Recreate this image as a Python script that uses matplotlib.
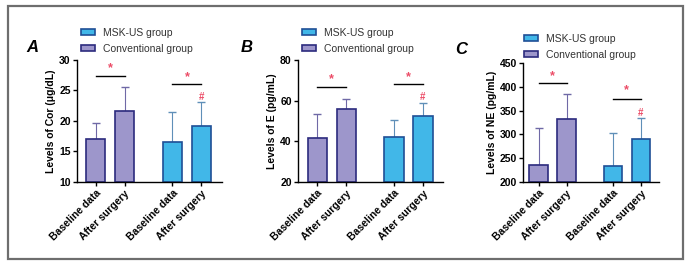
import matplotlib
matplotlib.use("Agg")
import matplotlib.pyplot as plt
from matplotlib.patches import Rectangle

plt.rcParams["font.family"] = ["Liberation Sans", "DejaVu Sans"]

# time points and groups
timepoints = ["Baseline data", "After surgery"]
groups = ["MSK-US group", "Conventional group"]

# panel A - cortisol
cor_conv = [17.0, 21.7]
cor_conv_sd = [2.7, 3.9]
cor_msk = [16.5, 19.1]
cor_msk_sd = [4.9, 4.0]

# panel B - epinephrine
e_conv = [41.8, 55.9]
e_conv_sd = [11.4, 5.1]
e_msk = [41.9, 52.3]
e_msk_sd = [8.8, 6.6]

# panel C - norepinephrine
ne_conv = [236, 332]
ne_conv_sd = [77, 53]
ne_msk = [234, 291]
ne_msk_sd = [68, 44]

# significance marks: (bracket y, star y) per group, '#' y
cor_marks = [(27.4, 28.7), (26.0, 27.2), 24.0]
e_marks = [(66.5, 70.4), (68.0, 71.8), 62.0]
ne_marks = [(408, 422), (375, 392), 346]

conv_face, conv_edge = "#9d96cb", "#2c2b7e"
msk_face, msk_edge = "#41b7e8", "#1f4f96"
conv_err, msk_err = "#6f69a6", "#5f8fb8"
mark_red = "#ec4c67"

W, H = 690, 265
fig = plt.figure(figsize=(W / 100, H / 100), dpi=100)
fig.patches.append(Rectangle((8 / W, 1 - 259 / H), 675 / W, 253 / H,
                             transform=fig.transFigure, fill=False,
                             edgecolor="#6e6e6e", lw=1.6))


def px_axes(left, top, right, bottom):
    return fig.add_axes([left / W, 1 - bottom / H, (right - left) / W, (bottom - top) / H])


panels = [
    dict(box=(77, 60, 222, 182), conv=cor_conv, conv_sd=cor_conv_sd, msk=cor_msk,
         msk_sd=cor_msk_sd, marks=cor_marks, ylim=(10, 30), yticks=[10, 15, 20, 25, 30],
         ylabel="Levels of Cor (\u03bcg/dL)", letter="A", letter_xy=(26, 47),
         leg_xy=(81, 28), xlim=(-0.64, 4.36)),
    dict(box=(298, 60, 443, 182), conv=e_conv, conv_sd=e_conv_sd, msk=e_msk,
         msk_sd=e_msk_sd, marks=e_marks, ylim=(20, 80), yticks=[20, 40, 60, 80],
         ylabel="Levels of E (pg/mL)", letter="B", letter_xy=(241, 48),
         leg_xy=(302, 28), xlim=(-0.66, 4.34)),
    dict(box=(523, 63, 659, 182), conv=ne_conv, conv_sd=ne_conv_sd, msk=ne_msk,
         msk_sd=ne_msk_sd, marks=ne_marks, ylim=(200, 450),
         yticks=[200, 250, 300, 350, 400, 450],
         ylabel="Levels of NE (pg/mL)", letter="C", letter_xy=(455, 50),
         leg_xy=(524, 34), xlim=(-0.56, 4.3)),
]

pos_conv = [0, 1]
pos_msk = [2.65, 3.65]
bw = 0.66

for p in panels:
    ax = px_axes(*p["box"])
    ax.errorbar(pos_conv, p["conv"], yerr=[[0, 0], p["conv_sd"]], fmt="none",
                ecolor=conv_err, elinewidth=0.8, capsize=3, capthick=1, zorder=1)
    ax.errorbar(pos_msk, p["msk"], yerr=[[0, 0], p["msk_sd"]], fmt="none",
                ecolor=msk_err, elinewidth=0.8, capsize=3, capthick=1, zorder=1)
    b_conv = ax.bar(pos_conv, [v - p["ylim"][0] for v in p["conv"]], bottom=p["ylim"][0],
                    width=bw, color=conv_face, edgecolor=conv_edge, lw=1.2, zorder=2)
    b_msk = ax.bar(pos_msk, [v - p["ylim"][0] for v in p["msk"]], bottom=p["ylim"][0],
                   width=bw, color=msk_face, edgecolor=msk_edge, lw=1.2, zorder=2)

    (l1, s1), (l2, s2), hash_y = p["marks"]
    ax.plot(pos_conv, [l1, l1], color="black", lw=1, clip_on=False)
    ax.plot(pos_msk, [l2, l2], color="black", lw=1, clip_on=False)
    ax.text(sum(pos_conv) / 2, s1, "*", color=mark_red, ha="center", va="center",
            fontsize=9, fontweight="bold")
    ax.text(sum(pos_msk) / 2, s2, "*", color=mark_red, ha="center", va="center",
            fontsize=9, fontweight="bold")
    ax.text(pos_msk[1], hash_y, "#", color=mark_red, ha="center", va="center",
            fontsize=7, fontweight="bold")

    ax.set_ylim(*p["ylim"])
    ax.set_xlim(*p["xlim"])
    ax.set_yticks(p["yticks"])
    ax.set_xticks(pos_conv + pos_msk)
    ax.set_xticklabels(timepoints * 2, rotation=45, ha="right", rotation_mode="anchor",
                       fontsize=7.5, fontweight="bold")
    for t in ax.get_yticklabels():
        t.set_fontsize(7.5)
        t.set_fontweight("bold")
    ax.set_ylabel(p["ylabel"], fontsize=7.5, fontweight="bold", labelpad=2)
    ax.spines["top"].set_visible(False)
    ax.spines["right"].set_visible(False)
    ax.spines["left"].set_linewidth(1)
    ax.spines["bottom"].set_linewidth(1)
    ax.tick_params(length=3, width=1, pad=1.5)

    lx, ly = p["leg_xy"]
    leg = ax.legend([b_msk, b_conv], groups, loc="upper left",
                    bbox_to_anchor=(lx / W, 1 - ly / H), bbox_transform=fig.transFigure,
                    frameon=False, fontsize=7.5, handlelength=1.3, handleheight=0.5,
                    handletextpad=0.8, labelspacing=0.55, borderpad=0, borderaxespad=0)
    for t in leg.get_texts():
        t.set_color("#333333")

    tx, ty = p["letter_xy"]
    fig.text(tx / W, 1 - ty / H, p["letter"], fontsize=12, fontweight="bold",
             fontstyle="italic", ha="left", va="center")

fig.savefig("out.png", dpi=100)
